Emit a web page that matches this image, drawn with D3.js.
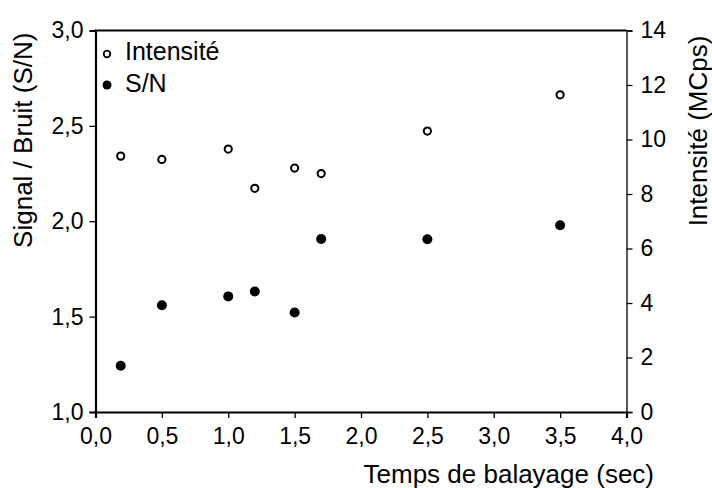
<!DOCTYPE html>
<html><head><meta charset="utf-8">
<script src="https://cdn.jsdelivr.net/npm/d3@7"></script>
<style>
html,body{margin:0;padding:0;background:#fff;}
svg{display:block;font-family:"Liberation Sans",Arial,sans-serif;}
</style></head>
<body>
<svg id="chart" width="712" height="488"></svg>
<script>
const scanTimes = [0.19, 0.5, 1.0, 1.2, 1.5, 1.7, 2.5, 3.5];
const intensityValues = [9.39, 9.27, 9.65, 8.21, 8.95, 8.75, 10.31, 11.64];
const snValues = [1.242, 1.56, 1.606, 1.632, 1.522, 1.907, 1.906, 1.979];
const xTicks = [0, 0.5, 1.0, 1.5, 2.0, 2.5, 3.0, 3.5, 4.0];
const leftTicks = [1.0, 1.5, 2.0, 2.5, 3.0];
const rightTicks = [0, 2, 4, 6, 8, 10, 12, 14];
const legendLabels = ["Intensité", "S/N"];

const svg = d3.select("#chart");
const L = 95.5, R = 626.5, T = 30.5, B = 412;
const x = d3.scaleLinear().domain([0, 4]).range([L, R]);
const yL = d3.scaleLinear().domain([1, 3]).range([B, T]);
const yR = d3.scaleLinear().domain([0, 14]).range([B, T]);
const fmt1 = v => d3.format(".1f")(v).replace(".", ",");

const tickFont = "23px";
// bottom axis
const gx = svg.append("g").attr("transform", `translate(0,${B})`)
  .call(d3.axisBottom(x).tickValues(xTicks).tickFormat(fmt1).tickSizeOuter(0).tickSize(6).tickPadding(10));
// left axis
const gl = svg.append("g").attr("transform", `translate(${L},0)`)
  .call(d3.axisLeft(yL).tickValues(leftTicks).tickFormat(fmt1).tickSizeOuter(0).tickSize(6).tickPadding(6));
// right axis
const gr = svg.append("g").attr("transform", `translate(${R},0)`)
  .call(d3.axisRight(yR).tickValues(rightTicks).tickFormat(d3.format("d")).tickSizeOuter(0).tickSize(6).tickPadding(8));
[gx, gl, gr].forEach(g => {
  g.selectAll("text").attr("font-size", tickFont).attr("fill", "#000").attr("font-family", "Liberation Sans, Arial, sans-serif");
  g.selectAll("line").attr("stroke", "#000").attr("stroke-width", 1.3);
  g.select(".domain").attr("stroke", "#000");
});
gx.select(".domain").attr("stroke-width", 2.2);
gl.select(".domain").attr("stroke-width", 2.2);
gr.select(".domain").attr("stroke-width", 1.3);
// top border
svg.append("line").attr("x1", L - 1).attr("x2", R).attr("y1", T).attr("y2", T)
  .attr("stroke", "#000").attr("stroke-width", 2.2);

// titles
svg.append("text").attr("transform", `translate(32,${(T + B) / 2 - 81}) rotate(-90)`)
  .attr("text-anchor", "middle").attr("font-size", "26px").text("Signal / Bruit (S/N)");
svg.append("text").attr("transform", `translate(707,131) rotate(-90)`)
  .attr("text-anchor", "middle").attr("font-size", "26px").text("Intensité (MCps)");
svg.append("text").attr("x", 654).attr("y", 483).attr("text-anchor", "end")
  .attr("font-size", "26px").text("Temps de balayage (sec)");

// data points
const pts = scanTimes.map((t, i) => ({t, inten: intensityValues[i], sn: snValues[i]}));
svg.append("g").selectAll("circle").data(pts).join("circle")
  .attr("cx", d => x(d.t)).attr("cy", d => yR(d.inten)).attr("r", 3.6)
  .attr("fill", "#fff").attr("stroke", "#000").attr("stroke-width", 2);
svg.append("g").selectAll("circle").data(pts).join("circle")
  .attr("cx", d => x(d.t)).attr("cy", d => yL(d.sn)).attr("r", 5)
  .attr("fill", "#000");

// legend
const lg = svg.append("g");
lg.append("circle").attr("cx", 107).attr("cy", 54).attr("r", 3.3)
  .attr("fill", "#fff").attr("stroke", "#000").attr("stroke-width", 1.8);
lg.append("circle").attr("cx", 107).attr("cy", 85).attr("r", 4.5).attr("fill", "#000");
lg.selectAll("text").data(legendLabels).join("text")
  .attr("x", 125).attr("y", (d, i) => i === 0 ? 60 : 92)
  .attr("font-size", "25px").text(d => d);
</script>
</body></html>
